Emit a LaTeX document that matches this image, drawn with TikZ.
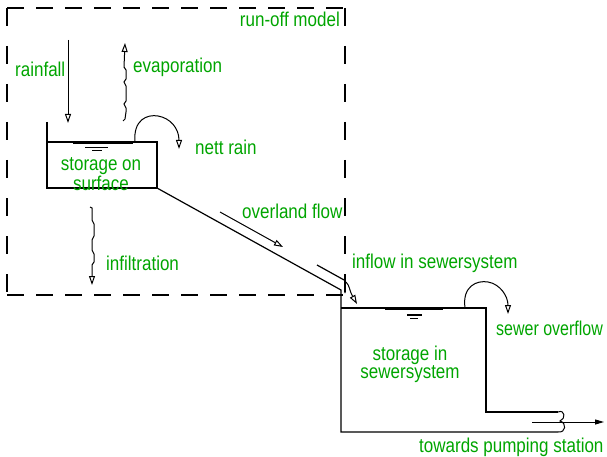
\documentclass[tikz,border=0pt]{standalone}
\usepackage{fontspec}
\newfontfamily\cadfont[FakeStretch=0.85]{Liberation Sans}
\newfontfamily\cadnarrow[FakeStretch=0.8]{Liberation Sans}
\usetikzlibrary{arrows.meta}
\definecolor{cadgreen}{RGB}{0,165,0}
\begin{document}
\begin{tikzpicture}[x=1pt,y=-1pt,
  lbl/.style={text=cadgreen, font=\cadfont\fontsize{20}{16}\selectfont, inner sep=0pt},
  ln/.style={line width=1.2pt, black, line join=miter},
  thin/.style={line width=1pt, black},
  dsh/.style={line width=1.5pt, black},
  hdash/.style={dash pattern=on 17pt off 12pt},
  vdash/.style={dash pattern=on 18pt off 20pt},
  otip/.style={-{Triangle[open,length=9pt,width=6pt,line width=1pt]}},
  ftip/.style={-{Triangle[length=9pt,width=5pt]}}]
\useasboundingbox (0,0) rectangle (607,457);

% run-off model frame
\coordinate (fTL) at (7,8);
\coordinate (fTR) at (345,8);
\coordinate (fBL) at (7,295);
\coordinate (fBR) at (345,295);
\draw[dsh,hdash] (fTL) -- (fTR);
\draw[dsh,hdash] (fBL) -- (fBR);
\draw[dsh,vdash] (fTL) -- (fBL);
\draw[dsh,vdash] (fTR) -- (fBR);

% storage on surface
\coordinate (sWall) at (47,122);
\coordinate (sTL) at (47,142);
\coordinate (sBL) at (47,188);
\coordinate (sBR) at (157,188);
\coordinate (sTR) at (157,142);
\draw[ln] (sWall) -- (sBL) -- (sBR) -- (sTR) -- (sTL);
\draw[ln] (73,143.8) -- (133,143.8);
\draw[ln] (85,147.5) -- (108,147.5);
\draw[thin] (92,150.8) -- (102,150.8);

% sewer box
\coordinate (dTop) at (341,290);
\coordinate (wTL) at (341,308);
\coordinate (wBL) at (341,432);
\coordinate (wBR) at (558,432);
\coordinate (wTR) at (486,308);
\coordinate (wStep) at (486,412);
\coordinate (wOut) at (558,412);
\draw[ln] (sBR) -- (dTop) -- (wTL) -- (wBL) -- (wBR);
\draw[ln] (wTL) -- (wTR) -- (wStep) -- (wOut);
\draw[ln] (385,309.8) -- (443,309.8);
\draw[ln] (407,315) -- (422,315);
\draw[thin] (410,318.3) -- (418,318.3);
% outlet cap
\draw[thin] (wOut) .. controls (565,409) and (566,419) .. (560,421)
  .. controls (567,423) and (566,433) .. (wBR);

% second overland line
\coordinate (bA) at (317,265);
\coordinate (bB) at (345,280.5);
\coordinate (bC) at (345,293);
\draw[ln] (bA) -- (bB) -- (bC);

% labels
\node[lbl,anchor=base east] (runoff) at (340,27) {run-off model};
\node[lbl,anchor=base west] (rainfall) at (15,77) {rainfall};
\node[lbl,anchor=base west] (evap) at (133,73) {evaporation};
\node[lbl,anchor=base west] (nett) at (195,155) {nett rain};
\node[lbl,align=center] (storS) at (101,174) {storage on\\surface};
\node[lbl,anchor=base west] (overland) at (242,218) {overland flow};
\node[lbl,anchor=base west] (infil) at (106,270) {infiltration};
\node[lbl,anchor=base west] (inflow) at (352,268) {inflow in sewersystem};
\node[lbl,anchor=base west,font=\cadnarrow\fontsize{20}{16}\selectfont] (overflow) at (496,335) {sewer overflow};
\node[lbl,align=center] (storW) at (410,364) {storage in\\sewersystem};
\node[lbl,anchor=base west] (pump) at (419,452) {towards pumping station};

% rainfall arrow
\coordinate (rTop) at (68,40);
\coordinate (rBot) at (68,123);
\draw[thin,otip] (rTop) -- (rBot);

% evaporation arrow (wiggly)
\coordinate (eBot) at (123,121);
\coordinate (eTop) at (125,43);
\draw[thin,otip] (eBot) -- (125,119) -- (126,112) -- (126,108) -- (124,104)
  -- (126,101) -- (126,86) -- (124,82) -- (126,79) -- (126,70) -- (124,67) -- (eTop);

% infiltration arrow (wiggly)
\coordinate (iTop) at (90,207);
\coordinate (iBot) at (92,285);
\draw[thin,otip] (iTop) -- (92,208) -- (92,220) -- (94,224) -- (94,236)
  -- (92,240) -- (92,250) -- (94,254) -- (94,262) -- (92,265) -- (iBot);

% nett rain arc
\coordinate (nStart) at (135,142);
\coordinate (nEnd) at (179,149);
\draw[thin,otip] (nStart) .. controls (133,120) and (147,114) .. (158,116)
  .. controls (170,118) and (179,128) .. (nEnd);

% sewer overflow arc
\coordinate (oStart) at (465,308);
\coordinate (oEnd) at (508,314);
\draw[thin,otip] (oStart) .. controls (462,286) and (477,280) .. (488,282)
  .. controls (500,284) and (508,296) .. (oEnd);

% overland flow arrow
\coordinate (ovS) at (220,212);
\coordinate (ovE) at (283,247);
\draw[thin,otip] (ovS) -- (ovE);

% inflow arrow
\coordinate (inS) at (346,282);
\coordinate (inE) at (357,304);
\draw[thin,otip] (inS) .. controls (350,286) and (349,290) .. (inE);

% pumping arrow
\coordinate (pS) at (532,422);
\coordinate (pE) at (604,422);
\draw[thin,ftip] (pS) -- (pE);
\end{tikzpicture}
\end{document}
